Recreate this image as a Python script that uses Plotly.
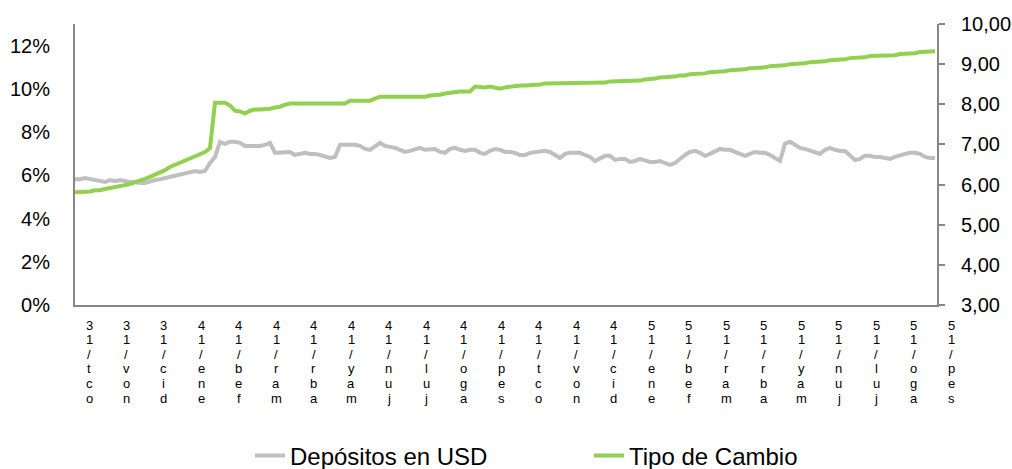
import plotly.graph_objects as go

# Depósitos en USD (%), left axis
depositos = [
    5.82, 5.82, 5.87, 5.82, 5.78, 5.73, 5.69, 5.78, 5.73, 5.78,
    5.73, 5.69, 5.69, 5.64, 5.64, 5.73, 5.78, 5.82, 5.87, 5.92,
    6.01, 6.06, 6.10, 6.15, 6.20, 6.15, 6.20, 6.57, 6.85, 7.55,
    7.46, 7.55, 7.55, 7.50, 7.36, 7.36, 7.36, 7.36, 7.41, 7.50,
    7.04, 7.04, 7.08, 7.08, 6.94, 6.99, 7.04, 6.99, 6.99, 6.94,
    6.85, 6.80, 6.85, 7.41, 7.41, 7.41, 7.41, 7.36, 7.22, 7.18,
    7.32, 7.50, 7.36, 7.32, 7.27, 7.18, 7.08, 7.13, 7.18, 7.27,
    7.18, 7.18, 7.22, 7.08, 7.04, 7.22, 7.27, 7.18, 7.13, 7.18,
    7.18, 7.04, 6.99, 7.13, 7.22, 7.18, 7.08, 7.08, 7.04, 6.94,
    6.94, 7.04, 7.08, 7.08, 7.13, 7.08, 6.94, 6.80, 6.99, 7.04,
    7.04, 7.04, 6.94, 6.85, 6.66, 6.80, 6.90, 6.90, 6.71, 6.76,
    6.76, 6.62, 6.66, 6.76, 6.71, 6.62, 6.62, 6.66, 6.57, 6.48,
    6.57, 6.76, 6.94, 7.08, 7.13, 7.04, 6.90, 6.99, 7.13, 7.22,
    7.18, 7.18, 7.08, 6.99, 6.90, 6.99, 7.08, 7.04, 7.04, 6.94,
    6.80, 6.66, 7.46, 7.55, 7.41, 7.27, 7.22, 7.13, 7.04, 6.99,
    7.18, 7.27, 7.18, 7.13, 7.13, 6.94, 6.71, 6.76, 6.90, 6.90,
    6.85, 6.85, 6.80, 6.76, 6.85, 6.94, 6.99, 7.04, 7.04, 6.99,
    6.85, 6.80, 6.80,
]

# Tipo de Cambio, right axis
tipo_cambio = [
    5.81, 5.81, 5.81, 5.83, 5.86, 5.86, 5.89, 5.91, 5.94, 5.96,
    5.99, 6.01, 6.06, 6.09, 6.14, 6.19, 6.24, 6.31, 6.36, 6.44,
    6.49, 6.54, 6.59, 6.64, 6.69, 6.74, 6.81, 6.91, 8.04, 8.04,
    8.04, 7.97, 7.84, 7.82, 7.77, 7.84, 7.87, 7.87, 7.87, 7.89,
    7.92, 7.94, 7.99, 8.02, 8.02, 8.02, 8.02, 8.02, 8.02, 8.02,
    8.02, 8.02, 8.02, 8.02, 8.02, 8.09, 8.09, 8.09, 8.09, 8.09,
    8.14, 8.19, 8.19, 8.19, 8.19, 8.19, 8.19, 8.19, 8.19, 8.19,
    8.19, 8.22, 8.22, 8.24, 8.27, 8.29, 8.32, 8.32, 8.32, 8.32,
    8.44, 8.42, 8.42, 8.44, 8.42, 8.39, 8.42, 8.44, 8.44, 8.47,
    8.47, 8.47, 8.49, 8.49, 8.52, 8.52, 8.52, 8.52, 8.52, 8.52,
    8.54, 8.54, 8.54, 8.54, 8.54, 8.54, 8.54, 8.57, 8.57, 8.57,
    8.57, 8.57, 8.59, 8.59, 8.62, 8.62, 8.64, 8.67, 8.67, 8.69,
    8.69, 8.72, 8.72, 8.75, 8.75, 8.77, 8.77, 8.80, 8.80, 8.82,
    8.82, 8.85, 8.85, 8.87, 8.87, 8.90, 8.90, 8.92, 8.92, 8.95,
    8.95, 8.97, 8.97, 9.00, 9.00, 9.02, 9.02, 9.05, 9.05, 9.07,
    9.07, 9.10, 9.10, 9.12, 9.12, 9.15, 9.15, 9.17, 9.17, 9.20,
    9.20, 9.20, 9.22, 9.22, 9.22, 9.25, 9.25, 9.27, 9.27, 9.30,
    9.30, 9.32, 9.32,
]

# Month labels (the original shows them as stacked characters, in reverse order)
meses = ["oct/13", "nov/13", "dic/13", "ene/14", "feb/14", "mar/14", "abr/14",
         "may/14", "jun/14", "jul/14", "ago/14", "sep/14", "oct/14", "nov/14",
         "dic/14", "ene/15", "feb/15", "mar/15", "abr/15", "may/15", "jun/15",
         "jul/15", "ago/15", "sep/15"]

n = len(depositos)
x = list(range(n))
x_end = n - 1 + 0.4
FONT = "Liberation Sans"

fig = go.Figure()
fig.add_trace(go.Scatter(x=x, y=depositos, mode="lines", name="Depósitos en USD",
                         line=dict(color="#BFBFBF", width=4), yaxis="y"))
fig.add_trace(go.Scatter(x=x, y=tipo_cambio, mode="lines", name="Tipo de Cambio",
                         line=dict(color="#92D050", width=4), yaxis="y2"))

annotations = []
step = x_end / (len(meses) - 1)
for k, m in enumerate(meses):
    chars = list(m[::-1])
    for j, ch in enumerate(chars):
        annotations.append(dict(
            x=k * step, xref="x", y=0, yref="paper",
            text=ch, showarrow=False, xanchor="center", yanchor="middle",
            xshift=14, yshift=-20 - 14.6 * j, borderpad=0,
            font=dict(family=FONT, size=13, color="#000000"),
        ))

fig.update_layout(
    width=1012, height=469,
    margin=dict(l=75, r=75, t=24, b=164, autoexpand=False),
    paper_bgcolor="white", plot_bgcolor="white",
    separators=",.",
    font=dict(family=FONT, size=20, color="#000000"),
    showlegend=True,
    legend=dict(orientation="h", x=0.203, y=-0.537, xanchor="left", yanchor="middle",
                font=dict(family=FONT, size=24, color="#000000"),
                entrywidth=294, bgcolor="rgba(0,0,0,0)"),
    xaxis=dict(range=[0, x_end], showticklabels=False, ticks="", showgrid=False,
               zeroline=False, showline=True, linecolor="#868686", linewidth=2,
               automargin=False),
    yaxis=dict(range=[0, 13], dtick=2, ticksuffix="%", showgrid=False, zeroline=False,
               showline=True, linecolor="#868686", linewidth=2, ticks="",
               ticklabelstandoff=19, automargin=False,
               tickfont=dict(family=FONT, size=20)),
    yaxis2=dict(range=[3, 10], dtick=1, tickformat=".2f", overlaying="y", side="right",
                showgrid=False, zeroline=False, showline=True, linecolor="#868686",
                linewidth=2, ticks="outside", ticklen=6, tickwidth=2, tickcolor="#868686",
                ticklabelstandoff=12, automargin=False,
                tickfont=dict(family=FONT, size=20)),
    annotations=annotations,
)

fig.write_html("out.html", config={"displayModeBar": False},
               post_script="document.body.style.margin='0px';")
